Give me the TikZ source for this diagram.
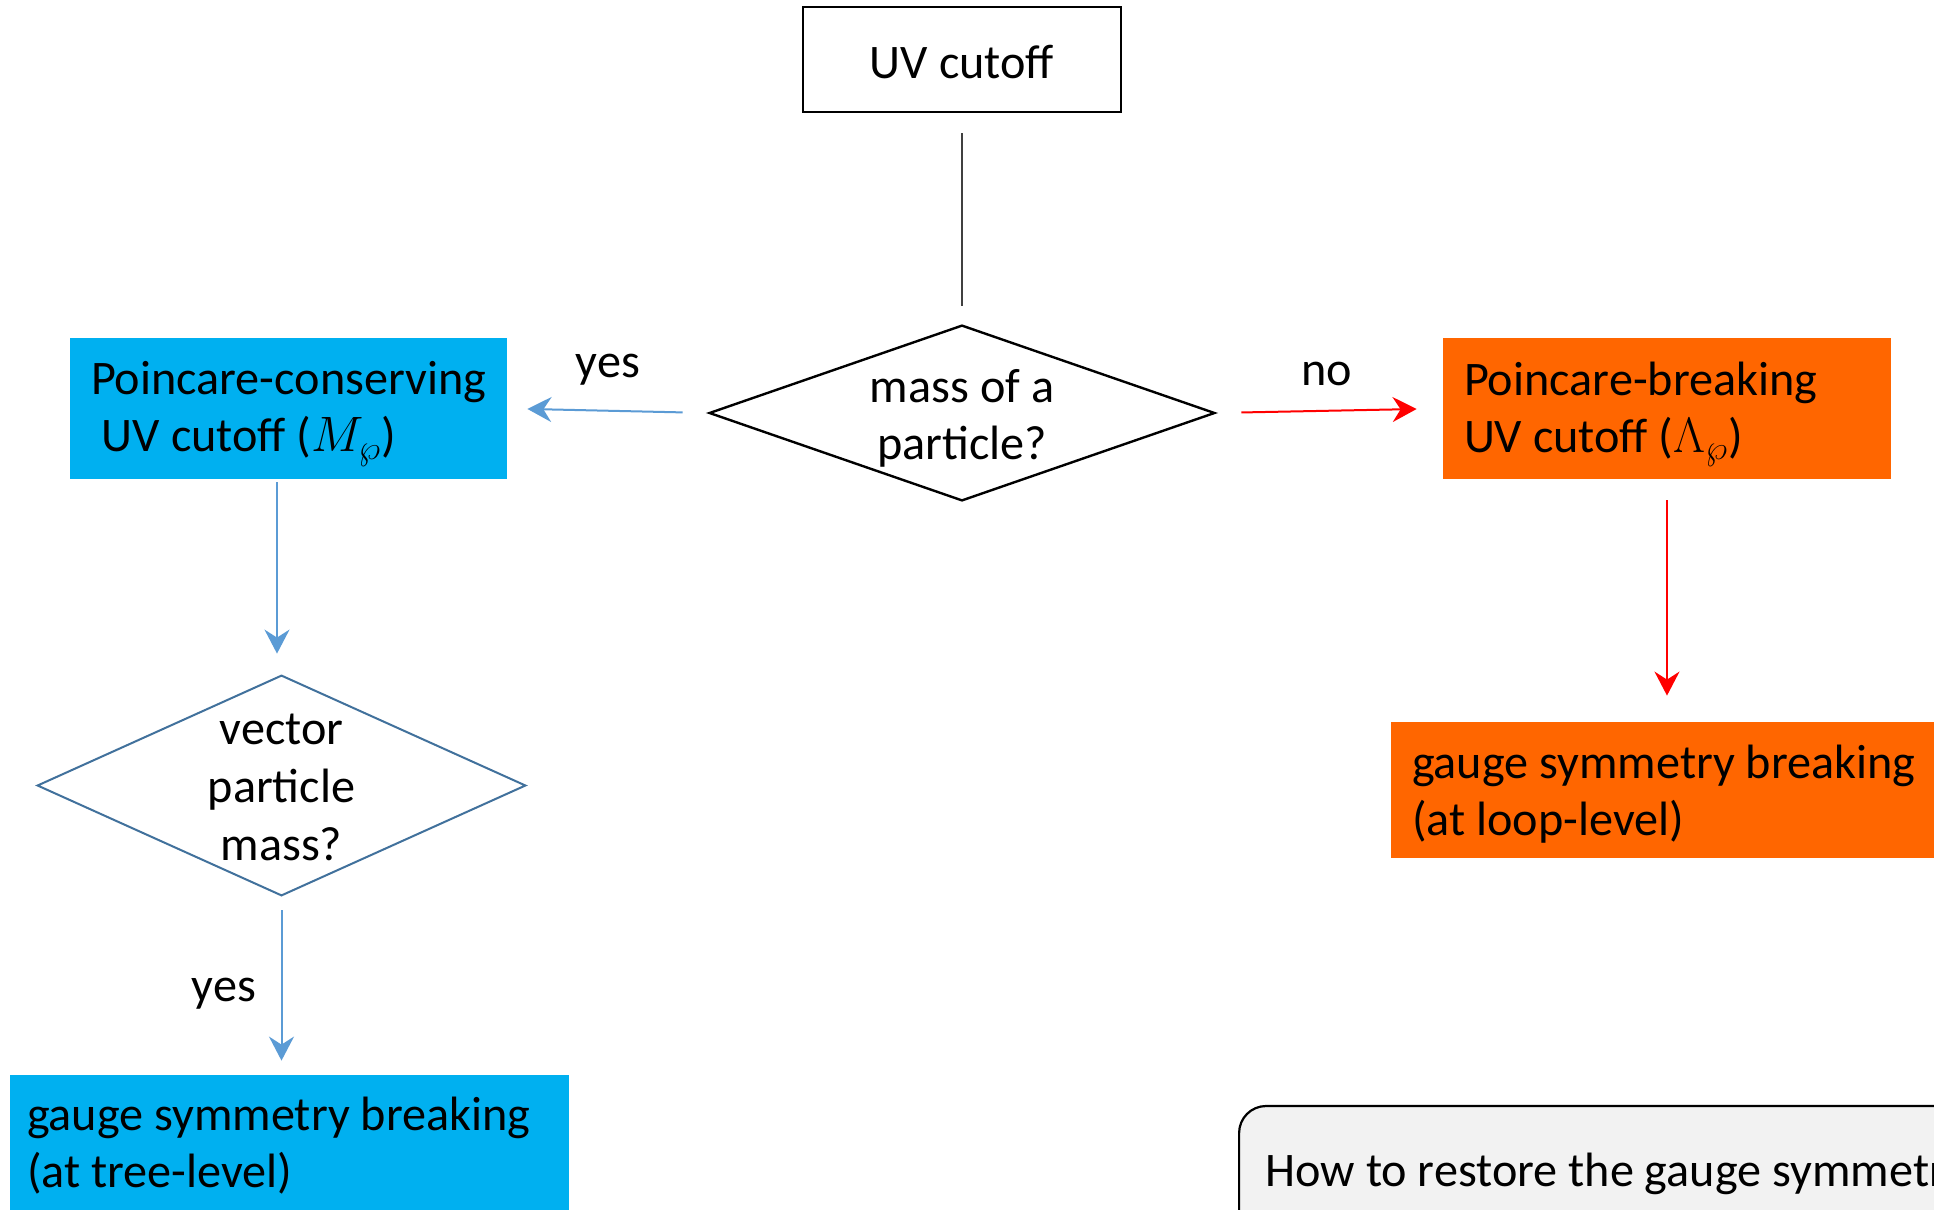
\documentclass[tikz,border=0pt]{standalone}
\usepackage{fontspec}
\setmainfont{Carlito}
\usetikzlibrary{arrows.meta}
\definecolor{cblue}{HTML}{00B0F0}
\definecolor{corange}{HTML}{FF6600}
\definecolor{ablue}{HTML}{5B9BD5}
\definecolor{dblue}{HTML}{41719C}
\definecolor{qgray}{HTML}{F2F2F2}
\begin{document}
\begin{tikzpicture}[x=0.5pt,y=-0.5pt,
  every node/.style={font=\fontsize{24.1}{28.5}\selectfont},
  fillbox/.style={rectangle, inner sep=0pt, minimum height=70.5pt},
  boxtext/.style={anchor=west, inner sep=0pt, align=left},
  decision/.style={rectangle, inner sep=0pt},
  dtext/.style={inner sep=0pt, align=center},
  blueline/.style={draw=ablue, line width=1pt, -{Stealth[length=12pt,width=12.5pt,inset=4pt]}},
  redline/.style={draw=red, line width=1pt, -{Stealth[length=12pt,width=12.5pt,inset=4pt]}},
  lbl/.style={inner sep=0pt}]
\useasboundingbox (0,0) rectangle (1934,1210);
\clip (0,0) rectangle (1934,1210);
\fill[white] (0,0) rectangle (1934,1210);

% top box
\node[draw=black, line width=1.15pt, minimum width=159pt, minimum height=52.5pt, inner sep=0pt] (uv) at (962,59.5) {};
\node[dtext] (uvt) at ([yshift=-1.25pt]uv.center) {UV cutoff};

% decision 1
\node[decision, minimum width=252pt, minimum height=87pt] (d1) at (962,413) {};
\draw[line width=1.2pt] (d1.north) -- (d1.east) -- (d1.south) -- (d1.west) -- cycle;
\node[dtext] (d1t) at ([yshift=-2.5pt]d1.center) {mass of a\\particle?};

% blue box 1
\node[fillbox, fill=cblue, minimum width=218.5pt] (b1) at (288.5,408.5) {};
\node[boxtext] (b1t) at ([xshift=10.5pt,yshift=-2.75pt]b1.west) {Poincare-conserving\\\hspace*{.226em}UV cutoff ($M_{\wp}$)};
% orange box 1
\node[fillbox, fill=corange, minimum width=224pt] (o1) at (1667,408.5) {};
\node[boxtext] (o1t) at ([xshift=10.5pt,yshift=-2.75pt]o1.west) {Poincare-breaking\\UV cutoff ($\Lambda_{\wp}$)};

% decision 2
\node[decision, minimum width=243.5pt, minimum height=109.5pt] (d2) at (281.5,785.5) {};
\draw[draw=dblue, line width=1pt] (d2.north) -- (d2.east) -- (d2.south) -- (d2.west) -- cycle;
\node[dtext, font=\fontsize{24.1}{29}\selectfont] (d2t) at ([yshift=-1pt]d2.center) {vector\\particle\\mass?};

% bottom boxes
\node[fillbox, fill=cblue, minimum width=279.5pt] (b2) at (289.5,1145.5) {};
\node[boxtext] (b2t) at ([xshift=8.5pt,yshift=-0.25pt]b2.west) {gauge symmetry breaking\\(at tree-level)};
\node[fillbox, fill=corange, minimum width=279.5pt, minimum height=68pt] (o2) at (1670.5,790) {};
\node[boxtext] (o2t) at ([xshift=10.5pt,yshift=-2pt]o2.west) {gauge symmetry breaking\\(at loop-level)};

% question box
\node[draw=black, line width=1.1pt, fill=qgray, rounded corners=13.5pt, anchor=west, inner sep=0pt, minimum height=66pt, minimum width=420pt] (gq) at (1238,1172) {};
\node[boxtext, font=\fontsize{24.1}{28}\selectfont] (gqt) at ([xshift=13.5pt,yshift=-1pt]gq.west) {How to restore the gauge symmetry?};

% connectors
\draw[draw=black!75, line width=0.6pt, shorten <=10pt, shorten >=10pt] (uv.south) -- (d1.north);
\draw[blueline, shorten <=13.5pt, shorten >=10pt] (d1.west) -- (b1.east);
\draw[redline, shorten <=13.5pt, shorten >=13pt] (d1.east) -- (o1.west);
\draw[blueline, shorten <=1.5pt, shorten >=11pt] ([xshift=-5.75pt]b1.south) -- ([xshift=-5.75pt]b1.south |- d2.north);
\draw[blueline, shorten <=7.5pt, shorten >=7pt] (d2.south) -- (d2.south |- b2.north);
\draw[redline, shorten <=10.5pt, shorten >=13pt] (o1.south) -- (o1.south |- o2.north);

% labels
\node[lbl] (lyes1) at (608,370) {yes};
\node[lbl] (lno) at (1327,374) {no};
\node[lbl] (lyes2) at (224,994) {yes};
\end{tikzpicture}
\end{document}
